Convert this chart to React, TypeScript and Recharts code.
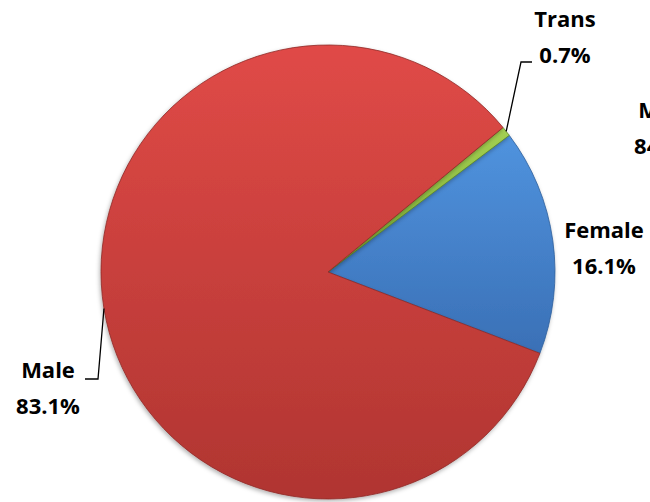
import { PieChart, Pie, Cell } from 'recharts'

const names = ['Female', 'Trans', 'Male']
const shares = [16.1, 0.7, 83.1]
const pctLabels = ['16.1%', '0.7%', '83.1%']

const data = names.map((name, i) => ({ name, value: shares[i], pct: pctLabels[i] }))

const fills = [
  ['#5093DE', '#3A70B6'],
  ['#A4D052', '#7AAB34'],
  ['#E04A47', '#B03531'],
]
const strokes = ['#2F5F9C', '#5F8A28', '#8E2A27']

// label placement relative to the pie centre: text centre x, first baseline y
const labelPos: Record<string, { dx: number; dy: number; line?: [number, number][] }> = {
  Female: { dx: 276, dy: -34 },
  Trans: { dx: 237, dy: -245, line: [[193, -210], [204, -210]] },
  Male: { dx: -280, dy: 106, line: [[-230, 107], [-243, 107]] },
}

const RAD = Math.PI / 180
const font = '"Open Sans", "DejaVu Sans", sans-serif'

function renderLabel(props: any) {
  const { cx, cy, midAngle, outerRadius, name, payload } = props
  const p = labelPos[name]
  if (!p) return null
  const x = cx + p.dx
  const y = cy + p.dy
  let path = ''
  if (p.line) {
    const sx = cx + outerRadius * Math.cos(-midAngle * RAD)
    const sy = cy + outerRadius * Math.sin(-midAngle * RAD)
    path = `M${sx},${sy}` + p.line.map(([a, b]) => ` L${cx + a},${cy + b}`).join('')
  }
  return (
    <g>
      {path && <path d={path} stroke="#000" strokeWidth={1.3} fill="none" />}
      <text x={x} y={y} textAnchor="middle" fontFamily={font} fontWeight={700} fontSize={22} fill="#000">
        <tspan x={x}>{name}</tspan>
        <tspan x={x} dy={36}>{payload.pct}</tspan>
      </text>
    </g>
  )
}

export default function App() {
  return (
    <div style={{ position: 'absolute', left: 0, top: 0, width: 650, height: 502, background: '#fff', overflow: 'hidden' }}>
      <PieChart width={650} height={502} margin={{ top: 0, right: 0, bottom: 0, left: 0 }}>
        <defs>
          {fills.map(([a, b], i) => (
            <linearGradient key={i} id={`g${i}`} x1="0" y1="0" x2="0" y2="1">
              <stop offset="0%" stopColor={a} />
              <stop offset="100%" stopColor={b} />
            </linearGradient>
          ))}
          <filter id="shadow" x="-10%" y="-10%" width="120%" height="120%">
            <feDropShadow dx="-1" dy="2" stdDeviation="2" floodColor="#000" floodOpacity="0.3" />
          </filter>
        </defs>
        <Pie
          data={data}
          dataKey="value"
          nameKey="name"
          cx={328}
          cy={272}
          outerRadius={227}
          startAngle={-21}
          endAngle={339}
          stroke="none"
          label={renderLabel}
          labelLine={false}
          isAnimationActive={false}
          style={{ filter: 'url(#shadow)' }}
        >
          {data.map((d, i) => (
            <Cell key={d.name} fill={`url(#g${i})`} stroke={strokes[i]} strokeWidth={0.8} />
          ))}
        </Pie>
        <text x={665} y={118} textAnchor="middle" fontFamily={font} fontWeight={700} fontSize={22} fill="#000">
          <tspan x={665}>Male</tspan>
          <tspan x={666} dy={36}>84.0%</tspan>
        </text>
      </PieChart>
    </div>
  )
}
